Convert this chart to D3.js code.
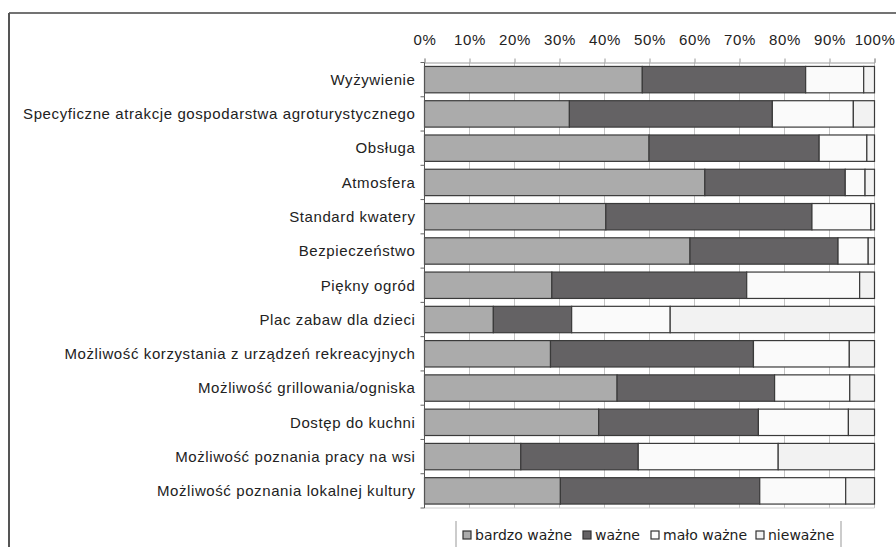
<!DOCTYPE html>
<html><head><meta charset="utf-8">
<script src="https://cdn.jsdelivr.net/npm/d3@7/dist/d3.min.js"></script>
<style>
html,body{margin:0;padding:0;background:#fff;}
svg{display:block;}
</style></head>
<body>
<svg id="chart" width="896" height="547"></svg>
<script>
const categories = [
  "Wyżywienie",
  "Specyficzne atrakcje gospodarstwa agroturystycznego",
  "Obsługa",
  "Atmosfera",
  "Standard kwatery",
  "Bezpieczeństwo",
  "Piękny ogród",
  "Plac zabaw dla dzieci",
  "Możliwość korzystania z urządzeń rekreacyjnych",
  "Możliwość grillowania/ogniska",
  "Dostęp do kuchni",
  "Możliwość poznania pracy na wsi",
  "Możliwość poznania lokalnej kultury"
];
const seriesNames = ["bardzo ważne", "ważne", "mało ważne", "nieważne"];
const bardzoWazne = [48.4, 32.2, 49.9, 62.3, 40.3, 59.0, 28.3, 15.3, 28.0, 42.8, 38.7, 21.4, 30.2];
const wazne       = [36.3, 45.1, 37.8, 31.2, 45.8, 32.9, 43.3, 17.4, 45.1, 35.0, 35.5, 26.1, 44.3];
const maloWazne   = [12.9, 18.0, 10.6,  4.4, 13.1,  6.7, 25.1, 21.9, 21.3, 16.7, 20.0, 31.1, 19.1];
const niewazne    = [ 2.4,  4.7,  1.7,  2.1,  0.8,  1.4,  3.3, 45.4,  5.6,  5.5,  5.8, 21.4,  6.4];
const tickValues = [0, 10, 20, 30, 40, 50, 60, 70, 80, 90, 100];
const tickLabels = ["0%", "10%", "20%", "30%", "40%", "50%", "60%", "70%", "80%", "90%", "100%"];
const colors = ["#ababab", "#646264", "#fafafa", "#f2f2f2"];

const svg = d3.select("#chart");
const W = 896, H = 547;
const pLeft = 424.5, pRight = 874.5, pTop = 62.5, pBottom = 508;
const labelFont = "Liberation Sans, Arial, sans-serif";

const seriesVals = [bardzoWazne, wazne, maloWazne, niewazne];
const rows = categories.map((c, i) => {
  const o = {cat: c};
  seriesNames.forEach((s, j) => o[s] = seriesVals[j][i]);
  return o;
});
const stacked = d3.stack().keys(seriesNames)(rows);

const x = d3.scaleLinear().domain([0, 100]).range([pLeft, pRight]);
const y = d3.scaleBand().domain(categories).range([pTop, pBottom]).paddingInner(0.23).paddingOuter(0.115);

// outer frame (left + top)
svg.append("line").attr("x1", 9).attr("x2", W).attr("y1", 13).attr("y2", 13).attr("stroke", "#444").attr("stroke-width", 1.5);
svg.append("line").attr("x1", 9).attr("x2", 9).attr("y1", 13).attr("y2", H).attr("stroke", "#555").attr("stroke-width", 2);

// gridlines
svg.append("g").selectAll("line").data(tickValues).join("line")
  .attr("x1", d => x(d)).attr("x2", d => x(d))
  .attr("y1", pTop).attr("y2", pBottom)
  .attr("stroke", "#c4c4c4").attr("stroke-width", 1);
svg.append("line").attr("x1", pLeft).attr("x2", pRight).attr("y1", pBottom).attr("y2", pBottom)
  .attr("stroke", "#d0d0d0");

// top axis
const xAxis = d3.axisTop(x).tickValues(tickValues).tickFormat((d, i) => tickLabels[i]).tickSize(4).tickPadding(14);
const gx = svg.append("g").attr("transform", `translate(0,${pTop})`).call(xAxis);
gx.select(".domain").attr("stroke", "#9a9a9a");
gx.selectAll(".tick line").attr("stroke", "#9a9a9a");
gx.selectAll("text").attr("font-family", labelFont).attr("font-size", 15)
  .attr("letter-spacing", "0.6px").attr("fill", "#222");

// bars
svg.append("g").selectAll("g").data(stacked).join("g")
  .attr("fill", (d, i) => colors[i])
  .selectAll("rect").data(d => d).join("rect")
  .attr("x", d => x(d[0]))
  .attr("y", d => y(d.data.cat))
  .attr("width", d => x(d[1]) - x(d[0]))
  .attr("height", y.bandwidth())
  .attr("stroke", "#3a3a3a").attr("stroke-width", 1.2);

// left axis
const bandEdges = categories.map(c => y(c) - y.step() * y.paddingInner() / 2).concat([pBottom]);
svg.append("line").attr("x1", pLeft).attr("x2", pLeft).attr("y1", pTop).attr("y2", pBottom).attr("stroke", "#555");
svg.append("g").selectAll("line").data(bandEdges).join("line")
  .attr("x1", pLeft - 4).attr("x2", pLeft).attr("y1", d => d).attr("y2", d => d).attr("stroke", "#666");
svg.append("g").selectAll("text").data(categories).join("text")
  .attr("x", pLeft - 9).attr("y", d => y(d) + y.bandwidth() / 2)
  .attr("dy", "0.35em").attr("text-anchor", "end")
  .attr("font-family", labelFont).attr("font-size", 15).attr("letter-spacing", "0.6px").attr("fill", "#222")
  .text(d => d);

// legend
const lg = svg.append("g");
lg.append("line").attr("x1", 456).attr("x2", 456).attr("y1", 521).attr("y2", H).attr("stroke", "#999");
lg.append("line").attr("x1", 841).attr("x2", 841).attr("y1", 521).attr("y2", H).attr("stroke", "#999");
const legendX = [463, 583, 651, 756];
seriesNames.forEach((s, i) => {
  lg.append("rect").attr("x", legendX[i]).attr("y", 531).attr("width", 8).attr("height", 8)
    .attr("fill", colors[i]).attr("stroke", "#333").attr("stroke-width", 1.2);
  lg.append("text").attr("x", legendX[i] + 12).attr("y", 535).attr("dy", "0.35em")
    .attr("font-family", "DejaVu Sans, sans-serif").attr("font-size", 14).attr("fill", "#222")
    .text(s);
});
</script>
</body></html>
